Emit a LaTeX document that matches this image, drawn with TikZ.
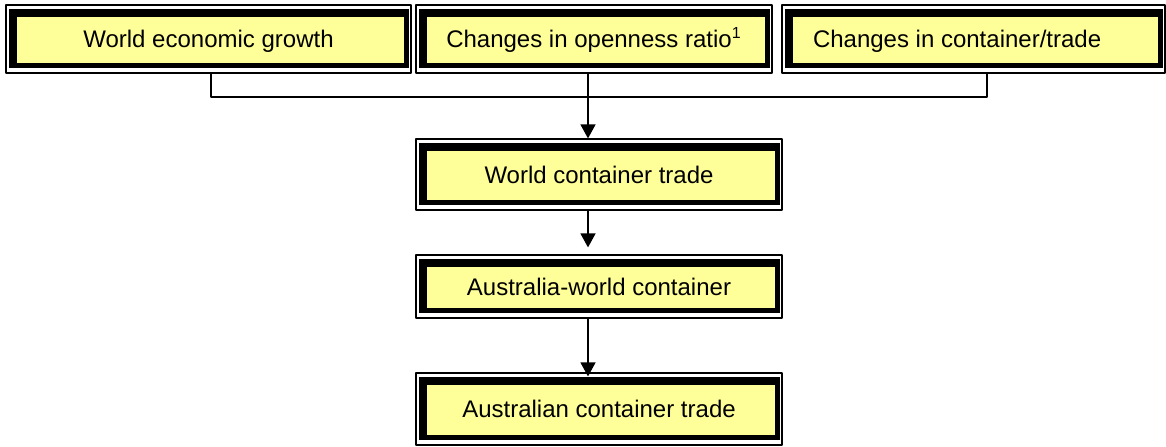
\documentclass[tikz,border=0pt]{standalone}
\usepackage{fontspec}
\setmainfont{Liberation Sans}
\usetikzlibrary{arrows.meta}
\definecolor{boxyellow}{HTML}{FFFF99}
\tikzset{
	flowbox/.style={draw, line width=0.6pt, fill=white, inner sep=0pt,
		text height=8.6pt, text depth=0pt,
		path picture={
			\fill[black] ([shift={(3,4)}]path picture bounding box.north west) rectangle ([shift={(-2,-5)}]path picture bounding box.south east);
			\fill[boxyellow] ([shift={(11,12)}]path picture bounding box.north west) rectangle ([shift={(-7,-10)}]path picture bounding box.south east);
		}},
	link/.style={line width=0.7pt},
	arr/.style={link, -{Triangle[width=7.5pt,length=7pt]}}
}
\begin{document}
\begin{tikzpicture}[x=0.5pt, y=-0.5pt, font=\fontsize{12}{14}\selectfont, line join=round]
	\useasboundingbox (0,0) rectangle (1166,446);
	% top row: the three drivers
	\node[flowbox, minimum width=202.5pt, minimum height=34pt] (growth) at (208.5,39) {World economic growth};
	\node[flowbox, minimum width=178pt, minimum height=34pt] (openness) at (594,39) {Changes in openness ratio\textsuperscript{1}};
	\node[flowbox, minimum width=191.5pt, minimum height=34pt, text width=160.5pt, align=flush left, inner xsep=15.5pt] (ctrade) at (973.5,39) {Changes in container/trade};
	% middle column
	\node[flowbox, minimum width=183pt, minimum height=35.5pt] (world) at (599,174.5) {World container trade};
	\node[flowbox, minimum width=183pt, minimum height=31.5pt] (ausworld) at (599,286.5) {Australia-world container};
	\node[flowbox, minimum width=183pt, minimum height=36pt] (aus) at (599,409) {Australian container trade};
	% connectors
	\coordinate (join) at (588,97);
	\draw[link] ([shift={(2.5,0)}]growth.south) |- (join) -| ([shift={(13.5,0)}]ctrade.south);
	\draw[arr] ([shift={(-6,0)}]openness.south) -- ([shift={(-11,0)}]world.north);
	\draw[arr] ([shift={(-11,0)}]world.south) -- ([shift={(-11,-7)}]ausworld.north);
	\draw[arr] ([shift={(-11,0)}]ausworld.south) -- ([shift={(-11,4)}]aus.north);
\end{tikzpicture}
\end{document}
